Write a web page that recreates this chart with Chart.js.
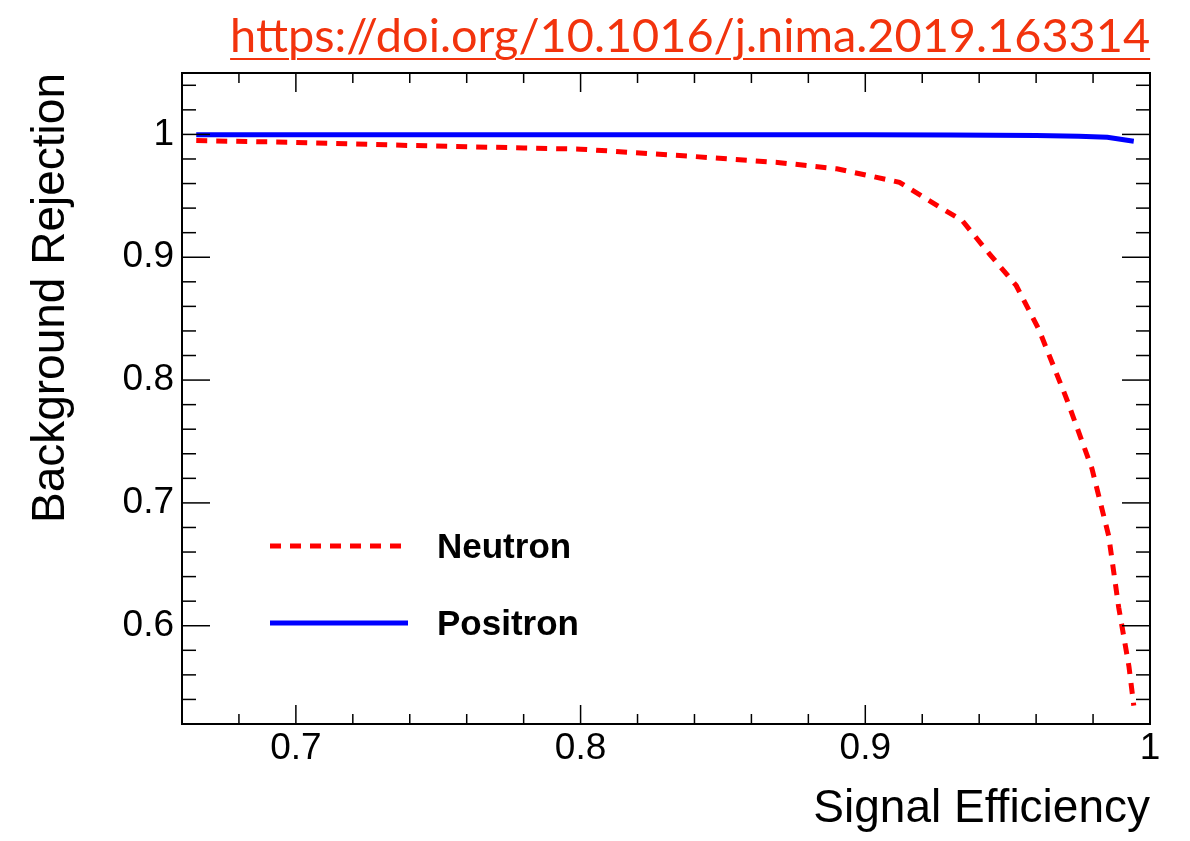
<!DOCTYPE html>
<html>
<head>
<meta charset="utf-8">
<title>Background rejection vs signal efficiency</title>
<script src="https://cdn.jsdelivr.net/npm/chart.js@4.4.1/dist/chart.umd.min.js"></script>
<style>
  html, body { margin: 0; padding: 0; background: #fff; }
  #wrap { position: relative; width: 1190px; height: 841px; }
  #doi {
    position: absolute; right: 40px; top: 11px;
    font-family: Lato, "Open Sans", sans-serif; font-size: 47px; line-height: 1;
    color: #f2330d; white-space: nowrap;
    text-decoration: underline; text-decoration-thickness: 2px; text-underline-offset: 6px;
    transform-origin: right top;
  }
</style>
</head>
<body>
<div id="wrap">
  <canvas id="roc" width="1190" height="841"></canvas>
  <div id="doi">https://doi.org/10.1016/j.nima.2019.163314</div>
</div>
<script>
const xTickValues = [0.7, 0.8, 0.9, 1.0];
const yTickValues = [0.6, 0.7, 0.8, 0.9, 1.0];

const neutronEff = [0.665, 0.70, 0.74, 0.78, 0.80, 0.84, 0.87, 0.89, 0.912, 0.926, 0.934,
  0.9435, 0.953, 0.961, 0.9705, 0.9796, 0.9855, 0.989, 0.9926, 0.9943];
const neutronRej = [0.995, 0.9935, 0.991, 0.989, 0.988, 0.982, 0.977, 0.972, 0.961, 0.941, 0.930,
  0.903, 0.877, 0.841, 0.786, 0.728, 0.673, 0.615, 0.567, 0.535];

const positronEff = [0.665, 0.75, 0.85, 0.90, 0.93, 0.96, 0.975, 0.985, 0.9943];
const positronRej = [0.9998, 0.9998, 0.9998, 0.9998, 0.9995, 0.9992, 0.9986, 0.9976, 0.9945];

const FONT = '"Liberation Sans", Arial, Helvetica, sans-serif';

// fit the doi line to the width it has in the original
const doi = document.getElementById("doi");
doi.style.transform = `scaleX(${920 / doi.getBoundingClientRect().width})`;

function fmt(v) {
  return Math.abs(v - 1) < 1e-9 ? "1" : v.toFixed(1);
}

// ROOT style frame: box plus inward ticks on all four sides
const rootFrame = {
  id: "rootFrame",
  afterDraw(chart) {
    const { ctx, chartArea: a, scales: { x, y } } = chart;
    const line = (x1, y1, x2, y2) => {
      ctx.beginPath();
      ctx.moveTo(x1, y1);
      ctx.lineTo(x2, y2);
      ctx.stroke();
    };
    ctx.save();
    ctx.strokeStyle = "#000";
    ctx.lineWidth = 1.5;
    for (let i = 34; i <= 49; i++) {
      const v = i / 50;
      const px = x.getPixelForValue(v);
      const len = xTickValues.some((t) => Math.abs(t - v) < 1e-6) ? 19 : 10;
      line(px, a.bottom, px, a.bottom - len);
      line(px, a.top, px, a.top + len);
    }
    for (let i = 27; i <= 52; i++) {
      const v = i / 50;
      const py = y.getPixelForValue(v);
      const len = yTickValues.some((t) => Math.abs(t - v) < 1e-6) ? 28 : 14;
      line(a.left, py, a.left + len, py);
      line(a.right, py, a.right - len, py);
    }
    ctx.lineWidth = 2;
    ctx.strokeRect(a.left, a.top, a.right - a.left, a.bottom - a.top);
    ctx.restore();
  },
};

// legend box inside the frame, lower left
const insetLegend = {
  id: "insetLegend",
  afterDraw(chart) {
    const { ctx, chartArea: a } = chart;
    const rows = [473, 550];
    ctx.save();
    chart.data.datasets.forEach((ds, i) => {
      const yy = a.top + rows[i];
      ctx.strokeStyle = ds.borderColor;
      ctx.lineWidth = ds.borderWidth;
      ctx.setLineDash(ds.borderDash || []);
      ctx.beginPath();
      ctx.moveTo(a.left + 88, yy);
      ctx.lineTo(a.left + 226, yy);
      ctx.stroke();
      ctx.setLineDash([]);
      ctx.fillStyle = "#000";
      ctx.font = `bold 35px ${FONT}`;
      ctx.textAlign = "left";
      ctx.textBaseline = "middle";
      ctx.fillText(ds.label, a.left + 255, yy + 2);
    });
    ctx.restore();
  },
};

new Chart(document.getElementById("roc"), {
  type: "line",
  data: {
    datasets: [
      {
        label: "Neutron",
        data: neutronEff.map((e, i) => ({ x: e, y: neutronRej[i] })),
        borderColor: "#ff0000",
        borderWidth: 5,
        borderDash: [11, 9],
        pointRadius: 0,
        tension: 0,
        fill: false,
      },
      {
        label: "Positron",
        data: positronEff.map((e, i) => ({ x: e, y: positronRej[i] })),
        borderColor: "#0000ff",
        borderWidth: 5,
        pointRadius: 0,
        tension: 0,
        fill: false,
      },
    ],
  },
  options: {
    responsive: false,
    animation: false,
    layout: { padding: { top: 73, right: 40, left: 0, bottom: 0 } },
    plugins: { legend: { display: false }, tooltip: { enabled: false } },
    scales: {
      x: {
        type: "linear",
        min: 0.66,
        max: 1.0,
        grid: { display: false, drawTicks: false },
        border: { display: false },
        afterBuildTicks: (s) => { s.ticks = xTickValues.map((v) => ({ value: v })); },
        afterFit: (s) => { s.height = 117; },
        ticks: {
          color: "#000",
          padding: 6,
          maxRotation: 0,
          font: { family: FONT, size: 37, lineHeight: 1 },
          callback: (v) => fmt(v),
        },
        title: {
          display: true,
          text: "Signal Efficiency",
          align: "end",
          color: "#000",
          font: { family: FONT, size: 46, lineHeight: 1 },
          padding: { top: 0, bottom: 9 },
        },
      },
      y: {
        type: "linear",
        min: 0.52,
        max: 1.05,
        grid: { display: false, drawTicks: false },
        border: { display: false },
        afterBuildTicks: (s) => { s.ticks = yTickValues.map((v) => ({ value: v })); },
        afterFit: (s) => { s.width = 182; },
        ticks: {
          color: "#000",
          padding: 8,
          font: { family: FONT, size: 37, lineHeight: 1 },
          callback: (v) => fmt(v),
        },
        title: {
          display: true,
          text: "Background Rejection",
          align: "end",
          color: "#000",
          font: { family: FONT, size: 46, lineHeight: 1 },
          padding: { top: 28, bottom: 0 },
        },
      },
    },
  },
  plugins: [rootFrame, insetLegend],
});
</script>
</body>
</html>
